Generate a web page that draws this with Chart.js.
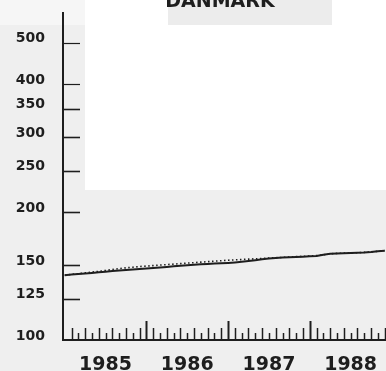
<!DOCTYPE html>
<html>
<head>
<meta charset="utf-8">
<script src="https://cdn.jsdelivr.net/npm/chart.js@4"></script>
<style>
 html, body { margin: 0; padding: 0; background: #efefef; }
 #wrap { position: relative; width: 386px; height: 371px; }
</style>
</head>
<body>
<div id="wrap"><canvas id="chart" width="386" height="371"></canvas></div>
<script>
const title = 'DANMARK';
const years = ['1985', '1986', '1987', '1988'];
const yTicks = [100, 125, 150, 200, 250, 300, 350, 400, 500];

// monthly values, Jan 1985 .. Dec 1988
const solidSeries = [
 142.0, 142.5, 143.0, 143.4, 143.8, 144.3, 144.7, 145.2, 145.6, 146.1, 146.5, 146.9,
 147.3, 147.7, 148.1, 148.5, 149.0, 149.4, 149.8, 150.2, 150.6, 150.9, 151.2, 151.5,
 151.8, 152.2, 152.7, 153.3, 154.0, 154.8, 155.4, 155.8, 156.2, 156.5, 156.8, 157.0,
 157.3, 157.6, 158.6, 159.5, 159.8, 160.0, 160.2, 160.4, 160.6, 161.0, 161.6, 162.2
];
const dottedSeries = [
 142.0, 142.6, 143.2, 143.8, 144.4, 145.0, 145.7, 146.4, 147.2, 147.8, 148.3, 148.8,
 149.2, 149.6, 150.0, 150.4, 150.8, 151.2, 151.6, 152.0, 152.4, 152.8, 153.2, 153.6,
 154.0, 154.3, 154.6, 154.9, 155.2, 155.5, 155.8, 156.1, 156.4, 156.7, 157.0, 157.3,
 157.6, 157.9, 158.6, 159.4, 159.8, 160.0, 160.2, 160.4, 160.7, 161.1, 161.6, 162.2
];

const ink = '#1e1e1e';
const toPoints = arr => arr.map((v, i) => ({ x: i, y: v }));

// scan background patches + title
const paperPlugin = {
 id: 'paper',
 beforeDraw(chart) {
  const c = chart.ctx;
  c.save();
  c.fillStyle = '#efefef';
  c.fillRect(0, 0, chart.width, chart.height);
  c.fillStyle = '#ffffff';
  c.fillRect(85, 0, 301, 190);
  c.fillStyle = '#f6f6f6';
  c.fillRect(0, 0, 85, 25);
  c.fillStyle = '#ececec';
  c.fillRect(168, 0, 164, 25);
  c.restore();
 },
 afterDraw(chart) {
  const c = chart.ctx;
  const x = chart.scales.x, y = chart.scales.y;
  c.save();
  c.strokeStyle = ink;
  c.lineCap = 'butt';
  // x tick marks pointing into the plot
  const bottom = chart.chartArea.bottom;
  for (let m = 1; m < 48; m++) {
   const px = Math.round(x.getPixelForValue(m)) + 0.5;
   const len = m % 12 === 0 ? 19 : (m % 2 === 1 ? 12 : 7);
   c.lineWidth = m % 12 === 0 ? 2 : 1.5;
   c.beginPath();
   c.moveTo(px, bottom);
   c.lineTo(px, bottom - len);
   c.stroke();
  }
  // y tick marks pointing into the plot
  const left = chart.chartArea.left;
  yTicks.forEach(v => {
   if (v === 100) return;
   const py = Math.round(y.getPixelForValue(v)) + 0.5;
   c.lineWidth = v >= 400 ? 1.2 : 1.6;
   c.beginPath();
   c.moveTo(left, py);
   c.lineTo(left + 17, py);
   c.stroke();
  });
  // title, cut by the top edge like the scan
  c.fillStyle = ink;
  c.font = 'bold 19px "DejaVu Sans"';
  c.textAlign = 'center';
  c.textBaseline = 'alphabetic';
  c.fillText(title, 220, 7);
  c.restore();
 }
};

new Chart(document.getElementById('chart'), {
 type: 'line',
 data: {
  datasets: [
   {
    label: 'solid',
    data: toPoints(solidSeries),
    borderColor: ink,
    borderWidth: 2,
    pointRadius: 0,
    tension: 0
   },
   {
    label: 'dotted',
    data: toPoints(dottedSeries),
    borderColor: ink,
    borderWidth: 1.6,
    borderDash: [1.5, 2.5],
    pointRadius: 0,
    tension: 0
   }
  ]
 },
 options: {
  responsive: false,
  animation: false,
  clip: false,
  layout: { padding: { top: 13, right: 0, left: 0, bottom: 0 } },
  plugins: { legend: { display: false }, tooltip: { enabled: false } },
  scales: {
   x: {
    type: 'linear',
    min: -0.25,
    max: 47.2,
    afterFit: s => {
     s.height = 31;
     s.paddingLeft = 0; s.paddingRight = 0;
    },
    afterBuildTicks: s => { s.ticks = years.map((_, i) => ({ value: i * 12 + 6 })); },
    ticks: {
     autoSkip: false,
     maxRotation: 0,
     padding: 14,
     color: ink,
     font: { family: 'DejaVu Sans', size: 19, weight: 'bold' },
     callback: v => years[Math.floor(v / 12)]
    },
    grid: { drawOnChartArea: false, drawTicks: false },
    border: { color: ink, width: 2 }
   },
   y: {
    type: 'logarithmic',
    min: 100,
    max: 587,
    afterFit: s => {
     s.width = 63;
     s.paddingTop = 0; s.paddingBottom = 0;
    },
    afterBuildTicks: s => { s.ticks = yTicks.map(v => ({ value: v })); },
    ticks: {
     autoSkip: false,
     padding: 18,
     labelOffset: -4,
     color: ink,
     font: { family: 'DejaVu Sans', size: 14, weight: 'bold' },
     callback: v => String(v)
    },
    grid: { drawOnChartArea: false, drawTicks: false },
    border: { color: ink, width: 2 }
   }
  }
 },
 plugins: [paperPlugin]
});
</script>
</body>
</html>
